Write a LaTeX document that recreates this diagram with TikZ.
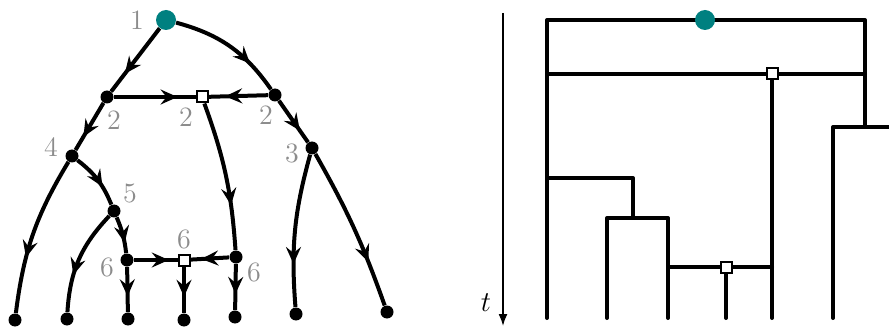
\documentclass[tikz,border=0pt]{standalone}
\usetikzlibrary{arrows.meta,decorations.markings}
\definecolor{rootteal}{RGB}{0,128,128}
\begin{document}
\begin{tikzpicture}[x=0.5pt,y=0.5pt,
  edge/.style={line width=2pt},
  midarrow/.style={postaction={decorate,decoration={markings,
    mark=at position #1 with {\arrow{Stealth[length=8.5pt,width=7.5pt,inset=3pt]}}}}},
  midarrow/.default=0.72,
  dot/.style={circle,fill=black,inner sep=0pt,minimum size=6.5pt},
  rootdot/.style={circle,fill=rootteal,inner sep=0pt,minimum size=10pt},
  merge/.style={rectangle,draw=black,fill=white,line width=1pt,inner sep=0pt,minimum size=5.5pt},
  lbl/.style={text=black!45,font=\fontsize{14}{16}\selectfont,inner sep=0pt}]
\useasboundingbox (0,0) rectangle (889,327);

% genealogy
\node[rootdot] (r) at (166,307) {};
\node[dot] (a) at (107,230) {};
\node[merge] (b) at (202,230) {};
\node[dot] (c) at (275,232) {};
\node[dot] (d) at (72,171) {};
\node[dot] (e) at (312,179) {};
\node[dot] (f) at (114,116) {};
\node[dot] (g) at (127,67) {};
\node[merge] (h) at (184,67) {};
\node[dot] (i) at (236,70) {};
\foreach \n/\x/\y in {1/15/7,2/67/8,3/128/8,4/184/7,5/235/10,6/296/13,7/387/15}
  \node[dot] (l\n) at (\x,\y) {};

\draw[edge,midarrow] (r) -- (a);
\draw[edge,midarrow] (r) to[bend left=20] (c);
\draw[edge,midarrow=0.78] (a) -- (b);
\draw[edge,midarrow] (c) -- (b);
\draw[edge,midarrow] (a) -- (d);
\draw[edge,midarrow] (c) -- (e);
\draw[edge,midarrow=0.65] (d) to[bend left=15] (f);
\draw[edge,midarrow=0.65] (d) to[bend right=12] (l1);
\draw[edge,midarrow] (f) to[bend left=8] (g);
\draw[edge,midarrow=0.65] (f) to[bend right=20] (l2);
\draw[edge,midarrow=0.8] (g) -- (h);
\draw[edge,midarrow] (i) -- (h);
\draw[edge,midarrow=0.7] (b) to[bend left=8] (i);
\draw[edge,midarrow=0.65] (g) -- (l3);
\draw[edge,midarrow=0.65] (h) -- (l4);
\draw[edge,midarrow=0.65] (i) -- (l5);
\draw[edge,midarrow] (e) to[bend right=10] (l6);
\draw[edge,midarrow] (e) to[bend left=5] (l7);

\node[lbl] (tr) at ([shift={(-29,0)}]r) {1};
\node[lbl] (ta) at ([shift={(7,-23)}]a) {2};
\node[lbl] (tb) at ([shift={(-16,-20)}]b) {2};
\node[lbl] (tc) at ([shift={(-9,-20)}]c) {2};
\node[lbl] (td) at ([shift={(-21,9)}]d) {4};
\node[lbl] (te) at ([shift={(-20,-5)}]e) {3};
\node[lbl] (tf) at ([shift={(16,18)}]f) {5};
\node[lbl] (tg) at ([shift={(-20,-7)}]g) {6};
\node[lbl] (th) at ([shift={(0,21)}]h) {6};
\node[lbl] (ti) at ([shift={(18,-15)}]i) {6};

% tree against time
\draw[line width=0.8pt,-{Latex[length=6pt,width=4.5pt]}] (503,314) -- (503,1);
\node[font=\fontsize{14}{16}\selectfont,inner sep=0pt] (tlab) at (486,24) {$t$};

\begin{scope}[edge,line cap=round,line join=round]
\draw (547,9) -- (547,307) -- (865,307) -- (865,200);
\draw (547,253) -- (865,253);
\draw (772,253) -- (772,9);
\draw (833,9) -- (833,200) -- (889,200);
\draw (547,149) -- (633,149) -- (633,109);
\draw (607,9) -- (607,109) -- (668,109) -- (668,9);
\draw (668,60) -- (772,60);
\draw (726,60) -- (726,9);
\end{scope}
\node[rootdot] (rr) at (705,307) {};
\node[merge] (m1) at (772,253) {};
\node[merge] (m2) at (726,60) {};
\end{tikzpicture}
\end{document}
